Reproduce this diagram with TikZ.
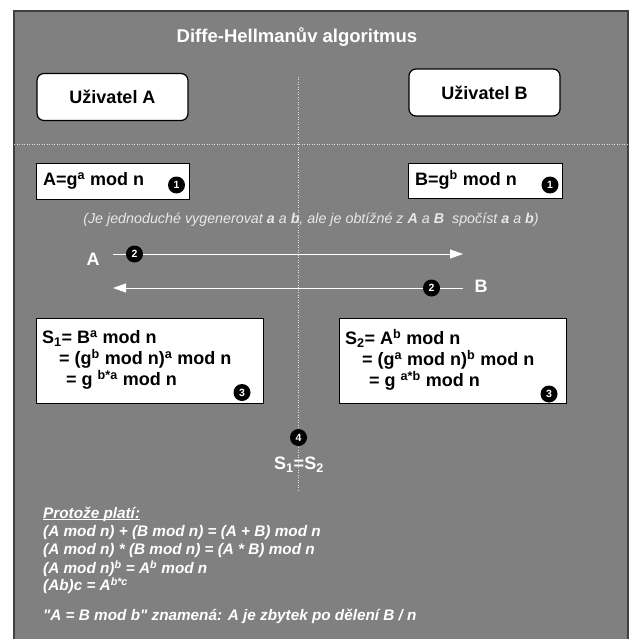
\documentclass[tikz,border=0pt]{standalone}
\usepackage{fontspec}
\setmainfont{Liberation Sans}
\usetikzlibrary{arrows.meta}
\definecolor{panel}{RGB}{128,128,128}
\definecolor{rule}{RGB}{225,225,225}
\definecolor{hinttext}{RGB}{232,232,232}
\newcommand{\fs}[1]{\fontsize{#1}{#1}\selectfont}
\begin{document}
\begin{tikzpicture}[x=1pt,y=-1pt,
  userbox/.style={draw=black, line width=1.2pt, fill=white, rounded corners=7pt,
    minimum width=151pt, minimum height=47pt, inner sep=0pt,
    font=\bfseries\fs{18}},
  formbox/.style={draw=black, line width=0.8pt, fill=white, inner sep=0pt},
  formtext/.style={anchor=west, align=left, inner sep=0pt,
    font=\bfseries\fontsize{18}{21}\selectfont},
  numdot/.style={circle, fill=black, inner sep=0pt, minimum size=17pt,
    text=white, font=\bfseries\fs{10.5}},
  divider/.style={rule, line width=1pt, dash pattern=on 1pt off 1.5pt},
  msg/.style={white, line width=1pt, -{Triangle[length=13pt,width=9pt]}},
  lbl/.style={text=white, font=\bfseries\fs{18}, inner sep=0pt},
  note/.style={text=white, font=\bfseries\itshape\fs{15.3}, anchor=west, inner sep=0pt}
]
\useasboundingbox (0,0) rectangle (632,639);
\fill[white] (0,0) rectangle (632,639);
% panel
\fill[panel] (14,11) rectangle (628,645);
\draw[black!75, line width=1.2pt] (14,645) -- (14,11) -- (628,11) -- (628,645);

\node[text=white, font=\bfseries\fs{18.5}] (title) at (297,37) {Diffe-Hellmanův algoritmus};

% dividers
\draw[divider] (14,145) -- (628,145);
\draw[divider] (298,77) -- (298,490);

% users
\node[userbox] (ua) at (112.5,97) {Uživatel A};
\node[userbox] (ub) at (484.5,92.5) {Uživatel B};

% public values
\node[formbox, minimum width=153pt, minimum height=36pt] (pa) at (112.5,181) {};
\node[formtext] (pat) at (43,181) {A=g\textsuperscript{a} mod n};
\node[numdot] (n1a) at (176.5,185) {1};
\node[formbox, minimum width=154pt, minimum height=35pt] (pb) at (485,181) {};
\node[formtext] (pbt) at (415,180) {B=g\textsuperscript{b} mod n};
\node[numdot] (n1b) at (550,185) {1};

\node[text=hinttext, font=\itshape\fs{14.3}, inner sep=0pt] (hint) at (311,220)
  {(Je jednoduché vygenerovat \textbf{a} a \textbf{b}, ale je obtížné z \textbf{A} a \textbf{B}\ \ spočíst \textbf{a} a \textbf{b})};

% exchange
\node[lbl] (la) at (93,259) {A};
\coordinate (a1s) at (113,254);
\coordinate (a1e) at (463,254);
\draw[msg] (a1s) -- (a1e);
\node[numdot] (n2a) at (134.5,254) {2};

\node[lbl] (lb) at (481,286.5) {B};
\coordinate (b1s) at (463,288);
\coordinate (b1e) at (113,288);
\draw[msg] (b1s) -- (b1e);
\node[numdot] (n2b) at (431.5,288) {2};

% shared secrets
\node[formbox, minimum width=227pt, minimum height=85pt] (sa) at (149.5,360.5) {};
\node[formtext] (sat) at (42,360) {S\textsubscript{1}= B\textsuperscript{a} mod n\\
  \hspace*{17pt}= (g\textsuperscript{b} mod n)\textsuperscript{a} mod n\\
  \hspace*{24pt}= g \textsuperscript{b*a} mod n};
\node[numdot] (n3a) at (242,392.5) {3};
\node[formbox, minimum width=227pt, minimum height=85pt] (sb) at (452.5,360.5) {};
\node[formtext] (sbt) at (345,360) {S\textsubscript{2}= A\textsuperscript{b} mod n\\
  \hspace*{17pt}= (g\textsuperscript{a} mod n)\textsuperscript{b} mod n\\
  \hspace*{24pt}= g \textsuperscript{a*b} mod n};
\node[numdot] (n3b) at (549,394) {3};

\node[numdot] (n4) at (298.5,437.5) {4};
\node[lbl] (eq) at (299,465) {S\textsubscript{1}=S\textsubscript{2}};

% explanation
\node[note] (t0) at (43,514) {Protože platí:};
\draw[white, line width=0.8pt] ([yshift=-1.6pt]t0.base west) -- ([yshift=-1.6pt]t0.base east);
\node[note] (t1) at (43,533) {(A mod n) + (B mod n) = (A + B) mod n};
\node[note] (t2) at (43,551) {(A mod n) * (B mod n) = (A * B) mod n};
\node[note] (t3) at (43,568.5) {(A mod n)\textsuperscript{b} = A\textsuperscript{b} mod n};
\node[note] (t4) at (43,586) {(Ab)c = A\textsuperscript{b*c}};
\node[note] (t5) at (43,616) {\textquotedbl A = B mod b\textquotedbl{} znamená: A je zbytek po dělení B / n};
\end{tikzpicture}
\end{document}
